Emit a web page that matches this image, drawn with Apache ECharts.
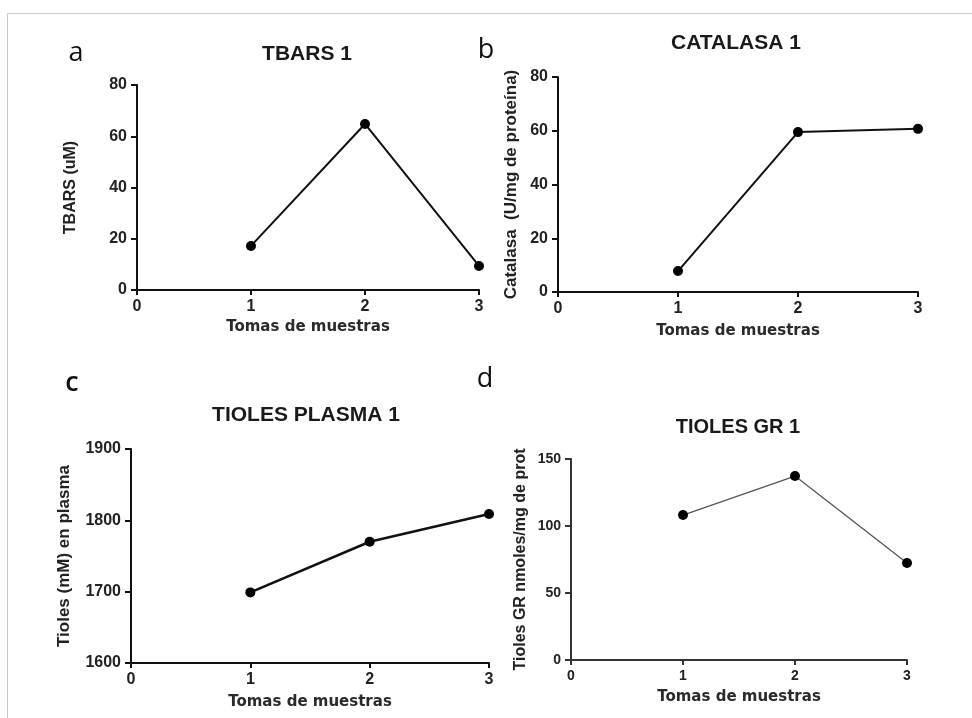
<!DOCTYPE html>
<html>
<head>
<meta charset="utf-8">
<script src="https://cdn.jsdelivr.net/npm/echarts@6/dist/echarts.min.js"></script>
<style>
  html, body { margin: 0; padding: 0; background: #fff; }
  #main { width: 972px; height: 718px; }
</style>
</head>
<body>
<div id="main"></div>
<script>
// datos
var muestras = [1, 2, 3];
var tbars = [17.2, 64.8, 9.4];
var catalasa = [7.8, 59.5, 60.7];
var tiolesPlasma = [1699, 1770, 1809];
var tiolesGR = [108.2, 137.3, 72.4];

var xTicks = [0, 1, 2, 3];
var titulos = ['TBARS 1', 'CATALASA 1', 'TIOLES PLASMA 1', 'TIOLES GR 1'];
var letras = ['a', 'b', 'c', 'd'];
var yNombres = ['TBARS (uM)', 'Catalasa  (U/mg de proteína)', 'Tioles (mM) en plasma', 'Tioles GR nmoles/mg de prot'];
var xNombre = 'Tomas de muestras';

var myChart = echarts.init(document.getElementById('main'));

function pares(ys) {
    return muestras.map(function (x, i) { return [x, ys[i]]; });
}

var grids = [
    {left: 137, top: 85, width: 342, height: 205},
    {left: 558, top: 77, width: 360, height: 215},
    {left: 131, top: 449, width: 358, height: 214},
    {left: 571, top: 459, width: 336, height: 201}
];

var yRangos = [
    {min: 0, max: 80, interval: 20},
    {min: 0, max: 80, interval: 20},
    {min: 1600, max: 1900, interval: 100},
    {min: 0, max: 150, interval: 50}
];

// estilo de cada panel
var ejeColor = ['#111', '#111', '#111', '#333'];
var tickFont = [16, 16, 16, 14];
var yNameFont = [16, 17, 17, 16];
var yNameGap = [58, 38, 58, 42];
var xNameGap = [30, 32, 32, 30];
var lineaAncho = [2, 2, 2.5, 1.3];
var lineaColor = ['#111', '#111', '#111', '#555'];

var xAxes = [], yAxes = [], series = [];
for (var i = 0; i < 4; i++) {
    xAxes.push({
        gridIndex: i,
        type: 'value',
        min: 0,
        max: 3,
        interval: 1,
        name: xNombre,
        nameLocation: 'middle',
        nameGap: xNameGap[i],
        nameTextStyle: {fontFamily: 'DejaVu Sans', fontWeight: 'bold', fontSize: 15, color: '#2a2a2a'},
        axisLine: {lineStyle: {color: ejeColor[i], width: 2}},
        axisTick: {show: true, length: 5, lineStyle: {color: ejeColor[i], width: 2}},
        axisLabel: {
            margin: 9,
            fontFamily: 'Liberation Sans', fontWeight: 'bold', fontSize: tickFont[i], color: '#222',
            formatter: function (v) { return xTicks.indexOf(v) >= 0 ? String(v) : ''; }
        },
        splitLine: {show: false}
    });
    yAxes.push({
        gridIndex: i,
        type: 'value',
        min: yRangos[i].min,
        max: yRangos[i].max,
        interval: yRangos[i].interval,
        name: yNombres[i],
        nameLocation: 'middle',
        nameRotate: 90,
        nameGap: yNameGap[i],
        nameTextStyle: {fontFamily: 'Liberation Sans', fontWeight: 'bold', fontSize: yNameFont[i], color: '#222'},
        axisLine: {show: true, lineStyle: {color: ejeColor[i], width: 2}},
        axisTick: {show: true, length: 6, lineStyle: {color: ejeColor[i], width: 2}},
        axisLabel: {
            margin: 10, fontFamily: 'Liberation Sans', fontWeight: 'bold', fontSize: tickFont[i], color: '#222',
            formatter: function (v) { return String(v); }
        },
        splitLine: {show: false}
    });
}

var valores = [tbars, catalasa, tiolesPlasma, tiolesGR];
for (var k = 0; k < 4; k++) {
    series.push({
        type: 'line',
        xAxisIndex: k,
        yAxisIndex: k,
        data: pares(valores[k]),
        symbol: 'circle',
        symbolSize: 10,
        lineStyle: {color: lineaColor[k], width: lineaAncho[k]},
        itemStyle: {color: '#000'},
        animation: false
    });
}

var posTitulos = [[307, 54], [736, 43], [306, 415], [738, 427]];
var posLetras = [[76, 53], [486, 50], [72, 383], [485, 379]];

var graficos = [{
    type: 'polyline',
    shape: {points: [[7.5, 718], [7.5, 13.5], [972, 13.5]]},
    style: {stroke: '#c8c8c8', lineWidth: 1, fill: null}
}];
for (var j = 0; j < 4; j++) {
    graficos.push({
        type: 'text',
        x: posTitulos[j][0], y: posTitulos[j][1],
        style: {
            text: titulos[j], fill: '#1a1a1a',
            font: 'bold ' + (j == 3 ? 20 : 21) + 'px "Liberation Sans"',
            textAlign: 'center', textVerticalAlign: 'middle'
        }
    });
    graficos.push({
        type: 'text',
        x: posLetras[j][0], y: posLetras[j][1],
        style: {
            text: letras[j], fill: '#111',
            font: (j == 2 ? '600 ' : '') + '27px "Open Sans"',
            textAlign: 'center', textVerticalAlign: 'middle'
        }
    });
}

var option = {
    backgroundColor: '#fff',
    animation: false,
    grid: grids,
    xAxis: xAxes,
    yAxis: yAxes,
    series: series,
    graphic: graficos
};
myChart.setOption(option);
</script>
</body>
</html>
